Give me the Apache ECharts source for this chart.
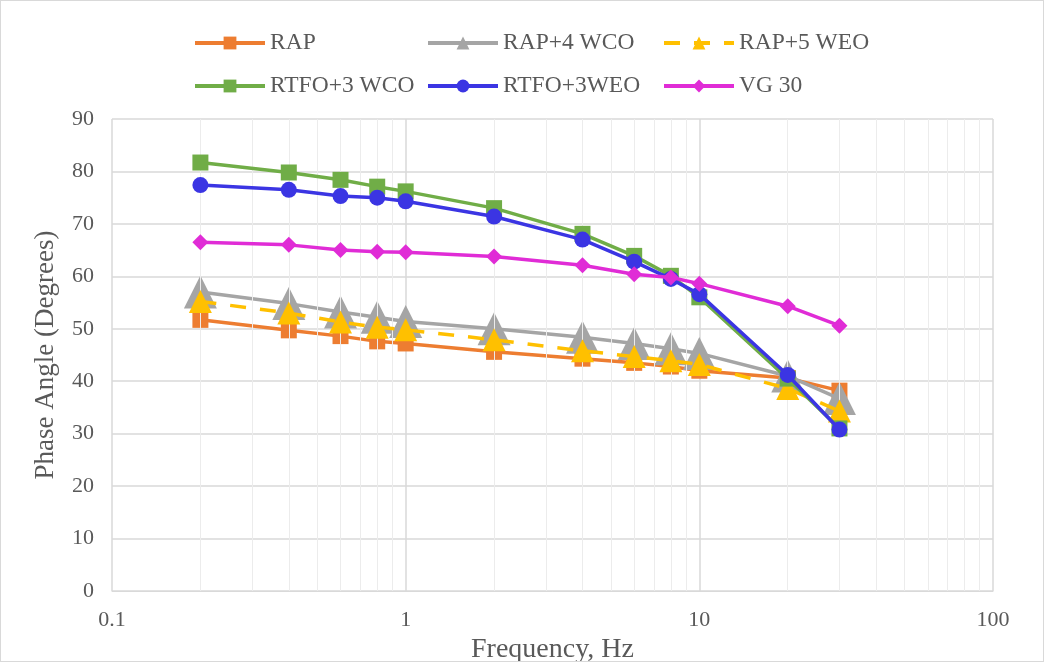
<!DOCTYPE html>
<html>
<head>
<meta charset="utf-8">
<script src="https://cdn.jsdelivr.net/npm/echarts@6/dist/echarts.min.js"></script>
<style>
  html, body { margin: 0; padding: 0; background: #fff; }
  #main { width: 1044px; height: 662px; box-sizing: border-box; border: 1px solid #d9d9d9; }
</style>
</head>
<body>
<div id="main"></div>
<script>
  // frequencies (Hz)
  const freq = [0.2, 0.4, 0.6, 0.8, 1, 2, 4, 6, 8, 10, 20, 30]
  // phase angle (degrees) per binder
  const rap = [51.7, 49.7, 48.6, 47.6, 47.2, 45.6, 44.3, 43.5, 42.8, 42.0, 40.6, 38.2]
  const rap4wco = [57.0, 54.8, 53.2, 52.2, 51.4, 50.0, 48.4, 47.2, 46.2, 45.3, 41.0, 36.7]
  const rap5weo = [55.2, 53.0, 51.3, 50.3, 49.8, 47.9, 45.8, 44.7, 43.9, 43.2, 38.6, 34.3]
  const rtfo3wco = [81.7, 79.8, 78.4, 77.1, 76.2, 73.0, 68.1, 63.9, 60.1, 56.0, 40.5, 31.0]
  const rtfo3weo = [77.4, 76.5, 75.3, 75.0, 74.3, 71.4, 67.0, 62.8, 59.5, 56.6, 41.2, 30.8]
  const vg30 = [66.5, 66.0, 65.0, 64.7, 64.6, 63.8, 62.1, 60.4, 59.8, 58.6, 54.3, 50.6]
  // minor log gridlines
  const minorTicks = [0.2, 0.3, 0.4, 0.5, 0.6, 0.7, 0.8, 0.9, 2, 3, 4, 5, 6, 7, 8, 9, 20, 30, 40, 50, 60, 70, 80, 90]

  const font = 'Liberation Serif, Times New Roman, serif'
  const textColor = '#595959'

  const pairs = (ys) => freq.map((f, i) => [f, ys[i]])

  const seriesDefs = [
    { name: 'RAP', data: rap, color: '#ED7D31', symbol: 'rect', size: 16 },
    { name: 'RAP+4 WCO', data: rap4wco, color: '#A5A5A5', symbol: 'triangle', size: 33 },
    { name: 'RAP+5 WEO', data: rap5weo, color: '#FFC000', symbol: 'triangle', size: 23, dashed: true },
    { name: 'RTFO+3 WCO', data: rtfo3wco, color: '#70AD47', symbol: 'rect', size: 16 },
    { name: 'RTFO+3WEO', data: rtfo3weo, color: '#3B35E3', symbol: 'circle', size: 16 },
    { name: 'VG 30', data: vg30, color: '#E02CD6', symbol: 'diamond', size: 16 }
  ]

  const legendPos = [
    { left: 192, top: 30 }, { left: 425, top: 30 }, { left: 661, top: 30 },
    { left: 192, top: 73 }, { left: 425, top: 73 }, { left: 661, top: 73 }
  ]

  const series = seriesDefs.map((s, i) => ({
    name: s.name,
    type: 'line',
    data: pairs(s.data),
    symbol: s.symbol,
    symbolSize: s.size,
    z: 3 + i,
    color: s.color,
    itemStyle: { color: s.color },
    lineStyle: { color: s.color, width: 3.5, type: s.dashed ? [16, 14] : 'solid' },
    emphasis: { disabled: true }
  }))

  // minor vertical gridlines for the log axis
  series.push({
    name: 'minor',
    type: 'line',
    data: [],
    z: 1,
    silent: true,
    markLine: {
      silent: true,
      symbol: 'none',
      label: { show: false },
      lineStyle: { color: '#ececec', width: 1, type: 'solid' },
      data: minorTicks.map((v) => ({ xAxis: v }))
    }
  })

  const legends = seriesDefs.map((s, i) => ({
    left: legendPos[i].left,
    top: legendPos[i].top,
    padding: 0,
    data: [s.name],
    itemWidth: 70,
    itemHeight: 16,
    itemGap: 0,
    selectedMode: false,
    lineStyle: { width: 4 },
    textStyle: { fontFamily: font, fontSize: 23.5, color: textColor }
  }))

  const chart = echarts.init(document.getElementById('main'), null, { renderer: 'canvas' })
  chart.setOption({
    animation: false,
    backgroundColor: '#fff',
    legend: legends,
    grid: { left: 111, right: 50, top: 118, bottom: 70, outerBoundsMode: 'none', containLabel: false },
    xAxis: {
      type: 'log',
      logBase: 10,
      min: 0.1,
      max: 100,
      name: 'Frequency, Hz',
      nameLocation: 'middle',
      nameGap: 35,
      nameTextStyle: { fontFamily: font, fontSize: 28, color: textColor },
      axisLine: { show: true, lineStyle: { color: '#d9d9d9', width: 1 } },
      axisTick: { show: false },
      axisLabel: {
        fontFamily: font, fontSize: 22, color: textColor, margin: 18,
        formatter: (v) => String(v)
      },
      splitLine: { show: true, lineStyle: { color: '#d9d9d9', width: 1.5 } }
    },
    yAxis: {
      type: 'value',
      min: 0,
      max: 90,
      interval: 10,
      name: 'Phase Angle (Degrees)',
      nameLocation: 'middle',
      nameGap: 53,
      nameTextStyle: { fontFamily: font, fontSize: 27, color: textColor },
      axisLine: { show: false },
      axisTick: { show: false },
      axisLabel: { fontFamily: font, fontSize: 22, color: textColor, margin: 18 },
      splitLine: { show: true, lineStyle: { color: '#d9d9d9', width: 1.5 } }
    },
    series: series
  })
</script>
</body>
</html>
